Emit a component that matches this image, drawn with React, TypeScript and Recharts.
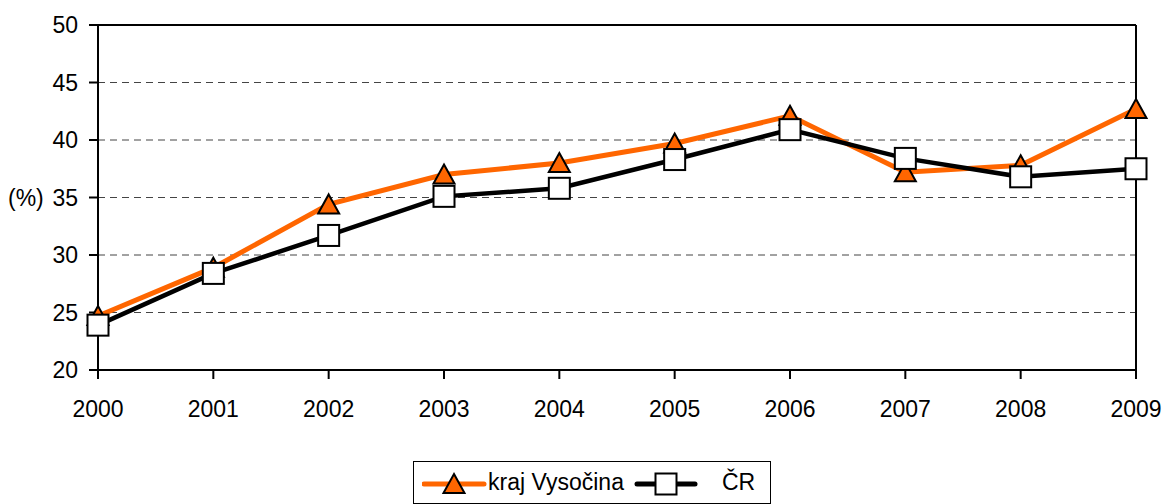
import { CartesianGrid, Legend, Line, LineChart, ReferenceLine, XAxis, YAxis } from "recharts"

const years = ["2000", "2001", "2002", "2003", "2004", "2005", "2006", "2007", "2008", "2009"]
const vysocina = [24.7, 28.9, 34.4, 37.0, 38.0, 39.7, 42.1, 37.2, 37.8, 42.7]
const cr = [23.9, 28.4, 31.7, 35.1, 35.8, 38.3, 40.9, 38.4, 36.8, 37.5]
const yTicks = [20, 25, 30, 35, 40, 45, 50]

const ORANGE = "#FF6600"
const FONT = "'Liberation Sans', Arial, sans-serif"
const FS = 23

const data = years.map((year, i) => ({ year, vysocina: vysocina[i], cr: cr[i] }))

const Triangle = (props: any) => {
  const { cx, cy } = props
  if (cx == null || cy == null) return null
  return (
    <path
      d={`M${cx},${cy - 10} L${cx + 10.5},${cy + 9} L${cx - 10.5},${cy + 9} Z`}
      fill={ORANGE}
      stroke="#000"
      strokeWidth={2}
    />
  )
}

const Square = (props: any) => {
  const { cx, cy } = props
  if (cx == null || cy == null) return null
  return <rect x={cx - 10.5} y={cy - 10.5} width={21} height={21} fill="#fff" stroke="#000" strokeWidth={2} />
}

function LegendBox() {
  return (
    <div
      style={{
        boxSizing: "border-box",
        height: 43,
        width: 358,
        border: "1.5px solid #000",
        display: "flex",
        alignItems: "center",
        whiteSpace: "nowrap",
        fontFamily: FONT,
        fontSize: FS,
        color: "#000",
        background: "#fff",
      }}
    >
      <svg width={70} height={30} style={{ marginLeft: 8, flexShrink: 0 }}>
        <line x1={2} y1={16} x2={62} y2={16} stroke={ORANGE} strokeWidth={5} strokeLinecap="round" />
        <Triangle cx={32} cy={16} />
      </svg>
      <span style={{ marginLeft: -4 }}>kraj Vysočina</span>
      <svg width={66} height={30} style={{ marginLeft: 10, flexShrink: 0 }}>
        <line x1={3} y1={16} x2={61} y2={16} stroke="#000" strokeWidth={5} strokeLinecap="round" />
        <Square cx={32} cy={16} />
      </svg>
      <span style={{ marginLeft: 22 }}>ČR</span>
    </div>
  )
}

export default function App() {
  return (
    <div style={{ width: 1165, height: 504, background: "#fff", overflow: "hidden" }}>
      <style>{"html, body { margin: 0; padding: 0; overflow: hidden; }"}</style>
      <LineChart width={1165} height={504} data={data} margin={{ top: 25, right: 29, left: 0, bottom: 0 }}>
        <CartesianGrid vertical={false} stroke="#444" strokeDasharray="7 5" />
        <XAxis
          dataKey="year"
          height={91}
          tickSize={9}
          tickMargin={22}
          axisLine={{ stroke: "#000", strokeWidth: 2 }}
          tickLine={{ stroke: "#000", strokeWidth: 2 }}
          tick={{ fill: "#000", fontSize: FS, fontFamily: FONT }}
          interval={0}
        />
        <YAxis
          domain={[20, 50]}
          ticks={yTicks}
          width={98}
          tickSize={9}
          tickMargin={11}
          axisLine={{ stroke: "#000", strokeWidth: 2 }}
          tickLine={{ stroke: "#000", strokeWidth: 2 }}
          tick={{ fill: "#000", fontSize: FS, fontFamily: FONT }}
          label={{ value: "(%)", position: "insideLeft", offset: 8, fill: "#000", fontSize: FS, fontFamily: FONT }}
        />
        <ReferenceLine y={50} stroke="#000" strokeWidth={2} />
        <ReferenceLine x="2009" stroke="#000" strokeWidth={2} />
        <Legend verticalAlign="bottom" wrapperStyle={{ left: 413, width: 358 }} content={() => <LegendBox />} />
        <Line
          dataKey="vysocina"
          name="kraj Vysočina"
          stroke={ORANGE}
          strokeWidth={5}
          dot={<Triangle />}
          activeDot={false}
          isAnimationActive={false}
        />
        <Line
          dataKey="cr"
          name="ČR"
          stroke="#000"
          strokeWidth={4.5}
          dot={<Square />}
          activeDot={false}
          isAnimationActive={false}
        />
      </LineChart>
    </div>
  )
}
